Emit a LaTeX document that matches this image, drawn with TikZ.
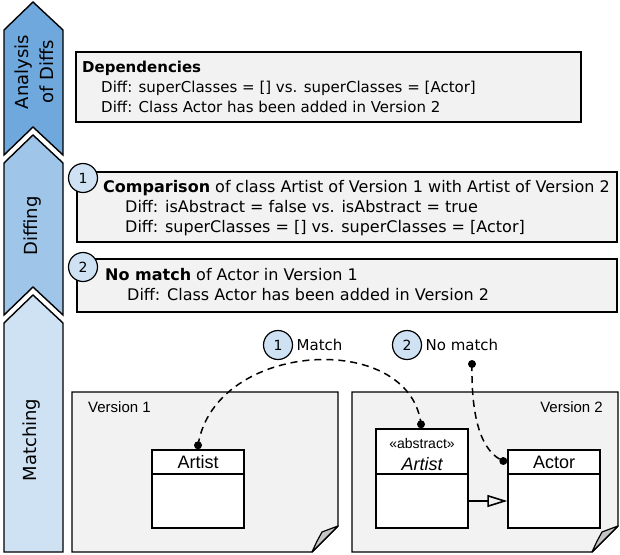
\documentclass[tikz,border=0pt]{standalone}
\usepackage{fontspec}
\setmainfont{DejaVu Sans}
\newfontfamily\umlfont{Liberation Sans}
\usetikzlibrary{arrows.meta,calc}
\definecolor{phasedark}{HTML}{6FA8DC}
\definecolor{phasemid}{HTML}{9FC5E8}
\definecolor{phaselight}{HTML}{CFE2F3}
\definecolor{sheetgray}{HTML}{F2F2F2}
\definecolor{foldgray}{HTML}{C4C4C4}
\tikzset{
  phaseshape/.style={draw=black,line width=1.4pt,line join=miter},
  phaselabel/.style={rotate=90,align=center,font=\fontsize{18}{25}\selectfont},
  diffbox/.style={draw=black,line width=1.4pt,fill=sheetgray},
  difftext/.style={anchor=base west,inner sep=0pt,font=\fontsize{16}{20}\selectfont},
  stepnum/.style={circle,draw=black,line width=1.2pt,fill=phaselight,minimum size=29pt,inner sep=0pt,font=\fontsize{14}{14}\selectfont},
  sheet/.style={draw=black,line width=1.4pt,fill=sheetgray,line join=miter},
  classbox/.style={draw=black,line width=1.4pt,fill=white,inner sep=0pt,minimum width=92pt},
  classname/.style={inner sep=0pt,font=\umlfont\fontsize{18}{18}\selectfont},
  matchline/.style={dashed,dash pattern=on 7pt off 5pt,line width=1.5pt}
}

\begin{document}
\begin{tikzpicture}[x=1pt,y=-1pt]
\useasboundingbox (0,0) rectangle (620,554);
\fill[white] (0,0) rectangle (620,554);
\draw[phaseshape,fill=phasedark] (4,30) -- (33,2) -- (63,30) -- (63,155) -- (33,127) -- (4,155) -- cycle;
\draw[phaseshape,fill=phasemid] (4,163) -- (33,135) -- (63,163) -- (63,315) -- (33,287) -- (4,315) -- cycle;
\draw[phaseshape,fill=phaselight] (4,323) -- (33,295) -- (63,323) -- (63,552) -- (4,552) -- cycle;
\node[phaselabel] (analysis) at (34,72) {Analysis\\of Diffs};
\node[phaselabel] (diffing) at (33,226) {Diffing};
\node[phaselabel] (matching) at (32,440) {Matching};

\draw[diffbox] (76,52) rectangle (581,122);
\node[difftext,font=\fontsize{15}{20}\selectfont] (dephead) at (82,72) {\bfseries Dependencies};
\node[difftext,font=\fontsize{15}{20}\selectfont] (depone) at (101,92) {Diff: superClasses = [] vs. superClasses = [Actor]};
\node[difftext,font=\fontsize{15}{20}\selectfont] (deptwo) at (101,112) {Diff: Class Actor has been added in Version 2};

\draw[diffbox] (77,172) rectangle (617,242);
\node[stepnum] (numA) at (83,178) {1};
\node[difftext] (comphead) at (103,192) {\bfseries Comparison\mdseries\ of class Artist of Version 1 with Artist of Version 2};
\node[difftext] (compone) at (125,212) {Diff: isAbstract = false vs. isAbstract = true};
\node[difftext] (comptwo) at (125,232) {Diff: superClasses = [] vs. superClasses = [Actor]};

\draw[diffbox] (77,259) rectangle (617,312);
\node[stepnum] (numB) at (83,267) {2};
\node[difftext] (nomhead) at (105,280) {\bfseries No match\mdseries\ of Actor in Version 1};
\node[difftext] (nomone) at (127,300) {Diff: Class Actor has been added in Version 2};

\draw[sheet] (72,392) -- (338,392) -- (338,526) -- (312,552) -- (72,552) -- cycle;
\draw[line width=1.2pt,fill=foldgray,line join=round] (338,526) .. controls (330,529) .. (322,532) .. controls (317,541) .. (312,552) -- cycle;
\node[anchor=base west,inner sep=0pt,font=\umlfont\fontsize{15}{15}\selectfont] (verA) at (88,412) {Version 1};

\draw[sheet] (352,392) -- (618,392) -- (618,526) -- (592,552) -- (352,552) -- cycle;
\draw[line width=1.2pt,fill=foldgray,line join=round] (618,526) .. controls (610,529) .. (602,532) .. controls (597,541) .. (592,552) -- cycle;
\node[anchor=base east,inner sep=0pt,font=\umlfont\fontsize{15}{15}\selectfont] (verB) at (603,412) {Version 2};

\node[classbox,minimum height=78pt] (artistA) at (198,489) {};
\draw[line width=1.2pt] (artistA.west |- 0,474) -- (artistA.east |- 0,474);
\node[classname] (artistAname) at (198,462) {Artist};

\node[classbox,minimum height=99pt] (artistB) at (422,478.5) {};
\draw[line width=1.2pt] (artistB.west |- 0,474) -- (artistB.east |- 0,474);
\node[inner sep=0pt,font=\umlfont\fontsize{14}{14}\selectfont] (stereo) at (422,443) {«abstract»};
\node[classname,font=\umlfont\itshape\fontsize{18}{18}\selectfont] (artistBname) at (422,464) {Artist};

\node[classbox,minimum height=78pt] (actor) at (554,489) {};
\draw[line width=1.2pt] (actor.west |- 0,474) -- (actor.east |- 0,474);
\node[classname] (actorname) at (554,462) {Actor};

\coordinate (genline) at (0,501);
\draw[line width=2.5pt,-{Triangle[open,length=20pt,width=12pt,line width=1.6pt]}] (artistB.east |- genline) -- (actor.west |- genline);

\node[stepnum] (numC) at (278,345) {1};
\node[anchor=west,font=\fontsize{15}{15}\selectfont] (matchlbl) at (numC.east) {Match};
\node[stepnum] (numD) at (407,345) {2};
\node[anchor=west,font=\fontsize{15}{15}\selectfont] (nomatchlbl) at (numD.east) {No match};

\coordinate (artistAdot) at ($(artistA.north)+(0,-4)$);
\coordinate (artistBdot) at ($(artistB.north)+(-1,-4)$);
\coordinate (nomatchdot) at (472,364);
\coordinate (actordot) at ($(actor.west |- actorname)+(-4,-1)$);
\draw[matchline] (artistAdot) .. controls (215,340) and (410,330) .. (artistBdot);
\draw[matchline] (nomatchdot) .. controls (471,420) and (482,452) .. (actordot);
\foreach \d in {artistAdot,artistBdot,nomatchdot,actordot}
  \fill (\d) circle (4pt);
\end{tikzpicture}
\end{document}
